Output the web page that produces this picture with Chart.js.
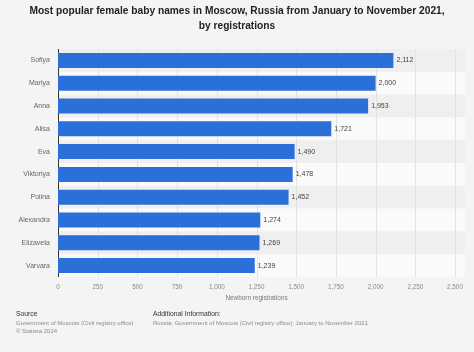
<!DOCTYPE html>
<html><head><meta charset="utf-8">
<script src="https://cdn.jsdelivr.net/npm/chart.js@4/dist/chart.umd.min.js"></script>
<style>
html,body{margin:0;padding:0;background:#f4f4f4;}
#wrap{position:relative;width:474px;height:352px;overflow:hidden;font-family:"Liberation Sans",Arial,sans-serif;}
canvas{position:absolute;left:0;top:0;}
#title{position:absolute;left:0;top:3px;width:474px;text-align:center;font-weight:bold;font-size:10.2px;line-height:15px;color:#222;}
.ft{position:absolute;font-size:6px;color:#8a8a8a;line-height:8.5px;white-space:nowrap;}
.ft b{font-weight:normal;color:#333;font-size:6.8px;}
</style></head><body>
<div id="wrap">
<canvas id="c" width="474" height="352"></canvas>
<div id="title"></div>
<div class="ft" style="left:16px;top:310px;"><b>Source</b><br>Government of Moscow (Civil registry office)<br>© Statista 2024</div>
<div class="ft" style="left:153px;top:310px;"><b>Additional Information:</b><br>Russia; Government of Moscow (Civil registry office); January to November 2021</div>
</div>
<script>
const categories = ["Sofiya","Mariya","Anna","Alisa","Eva","Viktoriya","Polina","Alexandra","Elizaveta","Varvara"];
const registrations = [2112,2000,1953,1721,1490,1478,1452,1274,1269,1239];
const titleLines = ["Most popular female baby names in Moscow, Russia from January to November 2021,","by registrations"];
const xAxisTitle = "Newborn registrations";
document.getElementById('title').innerHTML = titleLines.join('<br>');
const FONT = '"Liberation Sans", Arial, sans-serif';

const bands = {
  id:'bands',
  beforeDatasetsDraw(chart){
    const {ctx, chartArea:a, scales:{y}} = chart;
    const h = y.getPixelForValue(1)-y.getPixelForValue(0);
    ctx.save();
    categories.forEach((c,i)=>{
      const t = y.getPixelForValue(i) - h/2;
      ctx.fillStyle = i%2===0 ? '#efefef' : '#fafafa';
      ctx.fillRect(a.left, t, a.right-a.left+10, h);
    });
    ctx.restore();
  }
};
const gridBehind = {
  id:'gridBehind',
  beforeDatasetsDraw(chart){
    const {ctx, chartArea:a, scales:{x}} = chart;
    ctx.save();
    ctx.strokeStyle='#e2e2e2'; ctx.lineWidth=1;
    x.ticks.forEach(t=>{
      const px = Math.round(x.getPixelForValue(t.value))+0.5;
      ctx.beginPath(); ctx.moveTo(px,a.top); ctx.lineTo(px,a.bottom); ctx.stroke();
    });
    ctx.strokeStyle='#333';
    ctx.beginPath(); ctx.moveTo(Math.round(a.left)+0.5,a.top); ctx.lineTo(Math.round(a.left)+0.5,a.bottom); ctx.stroke();
    ctx.restore();
  }
};
const labels = {
  id:'labels',
  afterDatasetsDraw(chart){
    const {ctx} = chart;
    const meta = chart.getDatasetMeta(0);
    ctx.save();
    ctx.font = '7px ' + FONT;
    ctx.fillStyle = '#444';
    ctx.textBaseline = 'middle';
    meta.data.forEach((bar,i)=>{
      ctx.fillText(registrations[i].toLocaleString('en-US'), bar.x+3, bar.y);
    });
    ctx.restore();
  }
};

new Chart(document.getElementById('c'),{
  type:'bar',
  data:{labels:categories,datasets:[{data:registrations,backgroundColor:'#2b70d8',borderWidth:0,barPercentage:0.66,categoryPercentage:1}]},
  options:{
    indexAxis:'y',responsive:false,animation:false,devicePixelRatio:1,
    layout:{padding:{left:8,right:19,top:49,bottom:50}},
    plugins:{legend:{display:false},tooltip:{enabled:false},title:{display:false}},
    scales:{
      x:{min:0,max:2500,afterFit(s){s.height=25;},
         ticks:{stepSize:250,color:'#888',font:{size:6.3,family:FONT},padding:6,callback:v=>v.toLocaleString('en-US')},
         grid:{display:false,drawTicks:false},border:{display:false},
         title:{display:true,text:xAxisTitle,color:'#777',font:{size:6.4,family:FONT},padding:{top:0,bottom:0}}},
      y:{afterFit(s){s.width=50;},ticks:{color:'#666',font:{size:7,family:FONT},padding:8},grid:{display:false,drawTicks:false},border:{display:false}}
    }
  },
  plugins:[bands,gridBehind,labels]
});
</script>
</body></html>
